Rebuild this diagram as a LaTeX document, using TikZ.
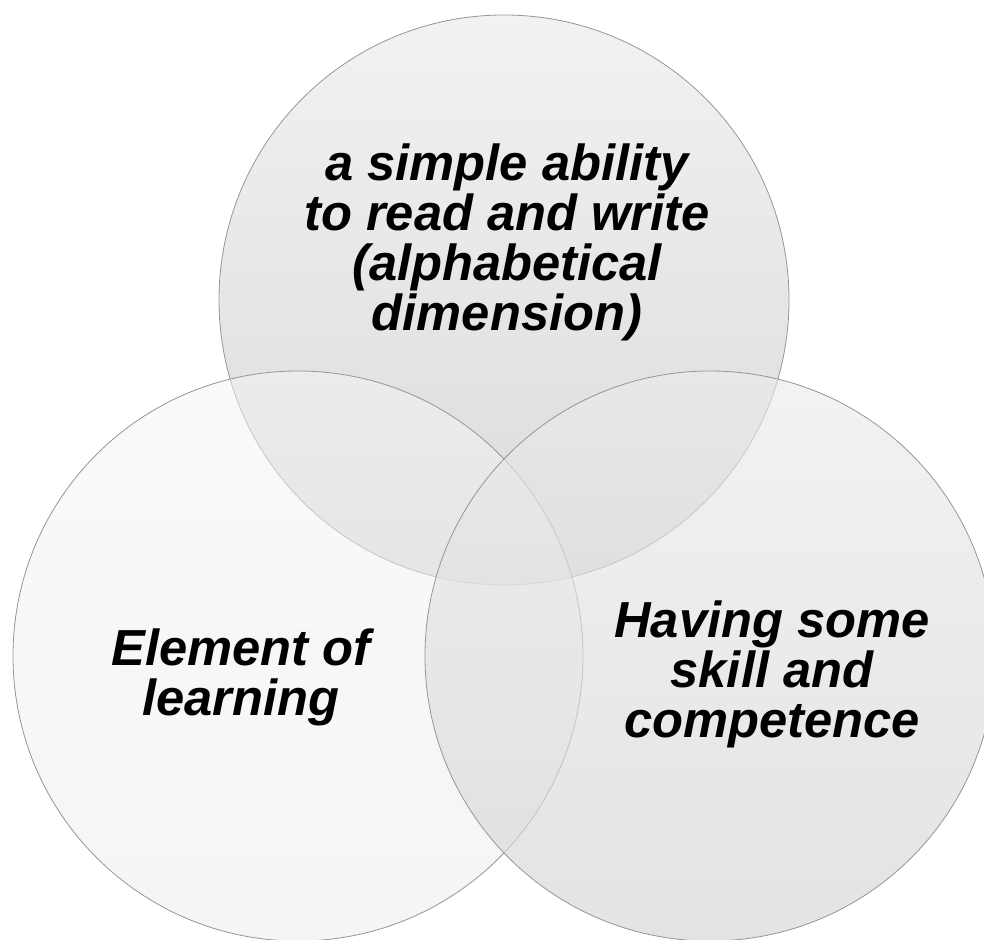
\documentclass[tikz,border=0pt]{standalone}
\usepackage{fontspec}
\setmainfont{Liberation Sans}
\definecolor{edgegray}{RGB}{150,150,150}
\begin{document}
\begin{tikzpicture}[x=0.75pt,y=0.75pt,
  venn/.style={draw=edgegray, line width=0.6pt, draw opacity=1},
  lbl/.style={align=center, inner sep=0pt, font=\fontsize{38}{37.5}\selectfont\bfseries\itshape, text=black}]
\useasboundingbox (0,0) rectangle (984,939);
% circles
\shade[venn, top color={rgb,255:red,242;green,242;blue,242}, bottom color={rgb,255:red,218;green,218;blue,218}]
  (504,639) circle (285);
\shade[venn, fill opacity=0.52, top color={rgb,255:red,245;green,245;blue,245}, bottom color={rgb,255:red,235;green,235;blue,235}]
  (298,283) circle (285);
\shade[venn, fill opacity=0.64, top color={rgb,255:red,235;green,235;blue,235}, bottom color={rgb,255:red,211;green,211;blue,211}]
  (710,283) circle (285);
\coordinate (ctop) at (504,639);
\coordinate (cleft) at (298,283);
\coordinate (cright) at (710,283);
% labels
\node[lbl] (ttop) at (507,697) {a simple ability\\to read and write\\(alphabetical\\dimension)};
\node[lbl] (tleft) at (241,262) {Element of\\learning};
\node[lbl] (tright) at (772,265) {Having some\\skill and\\competence};
\end{tikzpicture}
\end{document}
